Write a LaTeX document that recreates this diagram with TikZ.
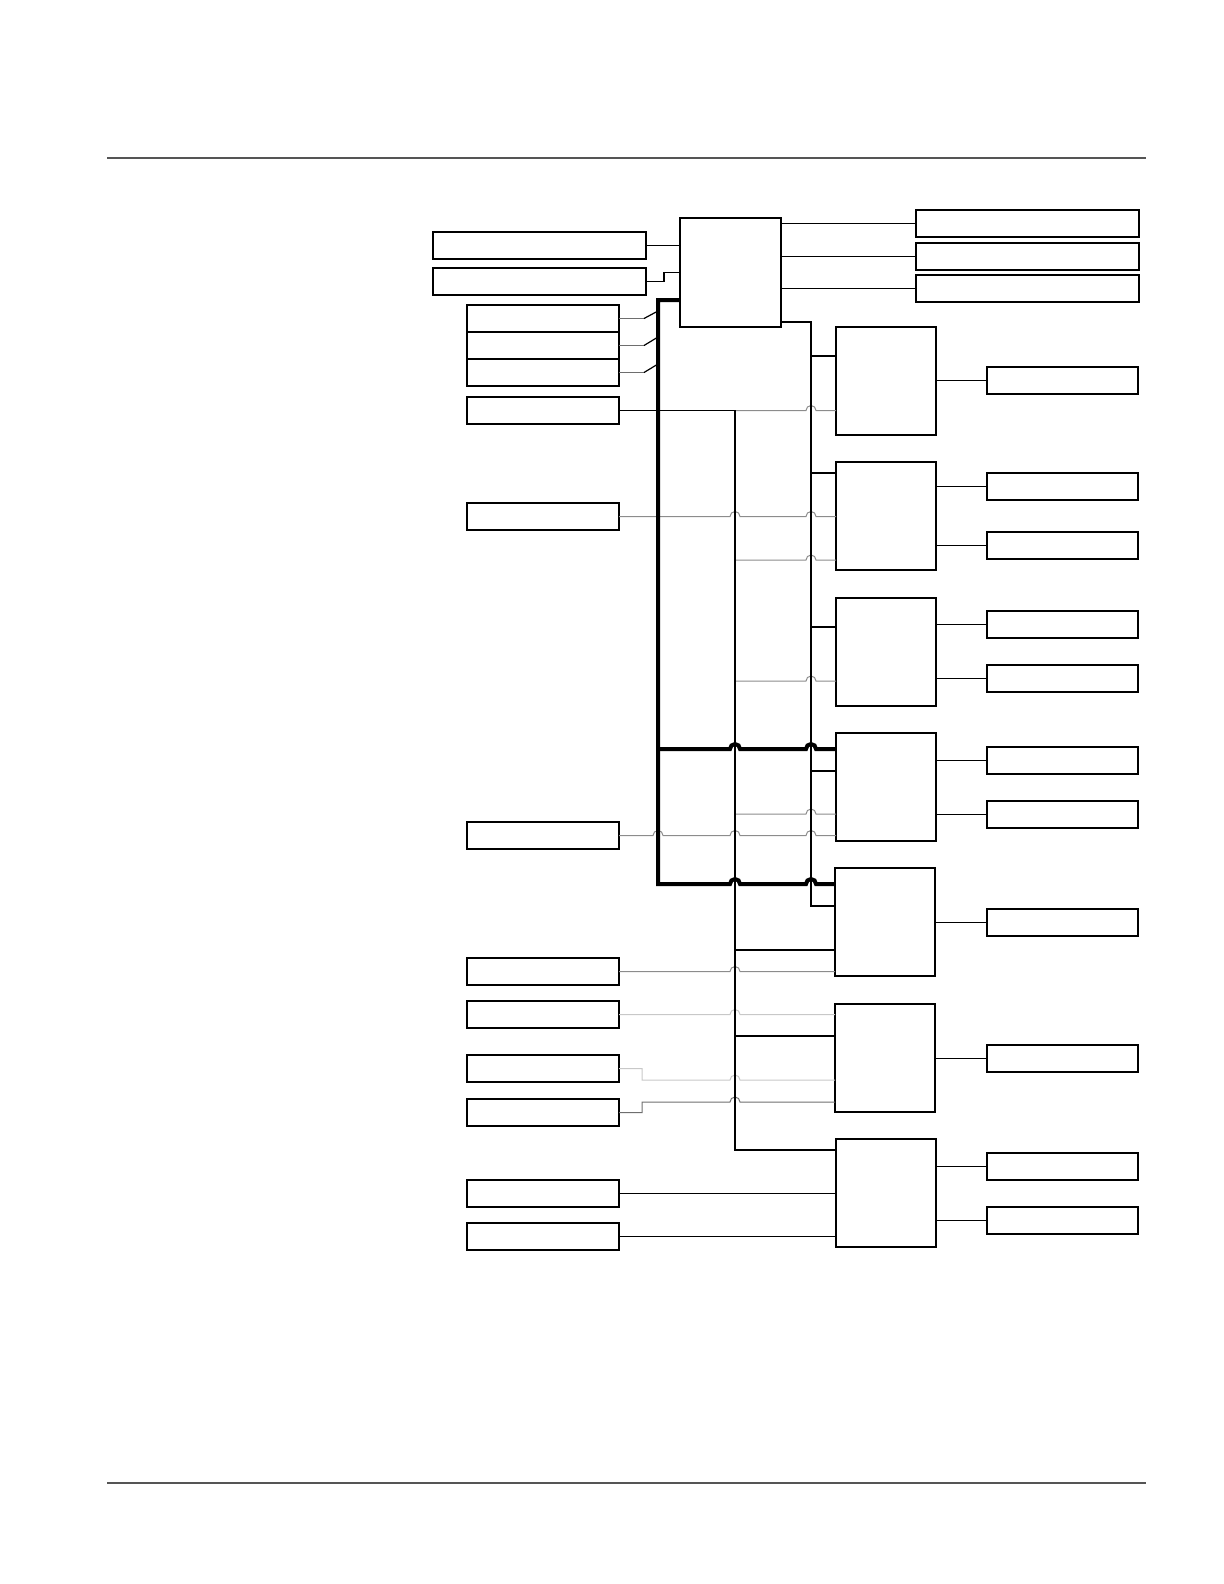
\documentclass[tikz,border=0pt]{standalone}
\usetikzlibrary{calc}

\definecolor{rulegray}{HTML}{555555}
\definecolor{midgray}{HTML}{8C8C8C}
\definecolor{darkgray}{HTML}{6E6E6E}
\definecolor{lightgray}{HTML}{C8C8C8}

\newcommand*{\hop}{arc[start angle=180,end angle=0,radius=2.5pt]}

\begin{document}
\begin{tikzpicture}
[
	box/.style={draw,line width=0.7pt,inner sep=0pt,outer sep=0pt,anchor=north west},
	abox/.style={box,minimum width=106.5pt,minimum height=13.5pt},
	lbox/.style={box,minimum width=76pt,minimum height=13.5pt},
	rbox/.style={box,minimum width=111.5pt,minimum height=13.5pt},
	cbox/.style={box,minimum width=50pt,minimum height=54pt},
	dbox/.style={box,minimum width=75.5pt,minimum height=13.5pt},
	wire/.style={line width=0.6pt},
	sig/.style={line width=0.5pt,midgray},
	bus/.style={line width=2pt},
	x=0.5pt, y=-0.5pt
]
	\useasboundingbox (0,0) rectangle (1224,1584);

	% page rules
	\draw[rulegray,line width=0.85pt] (107,158) -- (1146,158);
	\draw[rulegray,line width=0.85pt] (107,1483) -- (1146,1483);

	% main unit
	\node[box,minimum width=50.5pt,minimum height=54.5pt] (m) at (680,218) {};
	\node[abox] (a1) at (433,232) {};
	\node[abox] (a2) at (433,268) {};
	\node[rbox] (r1) at (916,210) {};
	\node[rbox] (r2) at (916,243) {};
	\node[rbox] (r3) at (916,275) {};

	% inputs
	\node[lbox] (b1) at (467,305) {};
	\node[lbox] (b2) at (467,332) {};
	\node[lbox] (b3) at (467,359) {};
	\node[lbox] (b4) at (467,397) {};
	\node[lbox] (b5) at (467,503) {};
	\node[lbox] (b6) at (467,822) {};
	\node[lbox] (b7) at (467,958) {};
	\node[lbox] (b8) at (467,1001) {};
	\node[lbox] (b9) at (467,1055) {};
	\node[lbox] (b10) at (467,1099) {};
	\node[lbox] (b11) at (467,1180) {};
	\node[lbox] (b12) at (467,1223) {};

	% modules
	\node[cbox] (c1) at (836,327) {};
	\node[cbox] (c2) at (836,462) {};
	\node[cbox] (c3) at (836,598) {};
	\node[cbox] (c4) at (836,733) {};
	\node[cbox] (c5) at (835,868) {};
	\node[cbox] (c6) at (835,1004) {};
	\node[cbox] (c7) at (836,1139) {};

	% outputs
	\node[dbox] (d1) at (987,367) {};
	\node[dbox] (d2) at (987,473) {};
	\node[dbox] (d3) at (987,532) {};
	\node[dbox] (d4) at (987,611) {};
	\node[dbox] (d5) at (987,665) {};
	\node[dbox] (d6) at (987,747) {};
	\node[dbox] (d7) at (987,801) {};
	\node[dbox] (d8) at (987,909) {};
	\node[dbox] (d9) at (987,1045) {};
	\node[dbox] (d10) at (987,1153) {};
	\node[dbox] (d11) at (987,1207) {};

	% crossing points and buses
	\coordinate (h0) at (653,0);
	\coordinate (h1) at (730,0);
	\coordinate (h2) at (806,0);
	\coordinate (tk) at (658,300);
	\coordinate (v1) at (735,410.5);
	\coordinate (v2) at (811,322);

	% grey signal lines
	\draw[sig] (v1) -- (h2 |- v1) \hop -- (c1.west |- v1);
	\draw[sig] (b5.east) -- (h1 |- b5.east) \hop -- (h2 |- b5.east) \hop -- (c2.west |- b5.east);
	\draw[sig] (v1 |- 0,560) -- (h2 |- 0,560) \hop -- (c2.west |- 0,560);
	\draw[sig] (v1 |- 0,681) -- (h2 |- 0,681) \hop -- (c3.west |- 0,681);
	\draw[sig] (v1 |- 0,814) -- (h2 |- 0,814) \hop -- (c4.west |- 0,814);
	\draw[sig] (b6.east) -- (h0 |- b6.east) \hop -- (h1 |- b6.east) \hop -- (h2 |- b6.east) \hop -- (c4.west |- b6.east);
	\draw[sig] (b7.east) -- (h1 |- b7.east) \hop -- (c5.west |- b7.east);
	\draw[sig,lightgray] (b8.east) -- (h1 |- b8.east) \hop -- (c6.west |- b8.east);
	\draw[sig,lightgray] (b9.east) -- ++(23,0) -- (642,1080) -- (h1 |- 0,1080) \hop -- (c6.west |- 0,1080);
	\draw[sig,darkgray] (b10.east) -- ++(23,0) -- (642,1102) -- (h1 |- 0,1102) \hop -- (c6.west |- 0,1102);
	\draw[sig,darkgray] (b1.east) -- ++(25,0);
	\draw[sig,darkgray] (b2.east) -- ++(25,0);
	\draw[sig,darkgray] (b3.east) -- ++(25,0);

	% black wiring
	\draw[wire] (a1.east) -- (m.west |- a1.east);
	\draw[wire] (a2.east) -- ++(18,0) |- (m.west);
	\foreach \r in {r1,r2,r3}
		\draw[wire] (\r.west -| m.east) -- (\r.west);
	\draw[wire] ($(b1.east)+(25,0)$) -- (tk |- 0,311);
	\draw[wire] ($(b2.east)+(25,0)$) -- (tk |- 0,337);
	\draw[wire] ($(b3.east)+(25,0)$) -- (tk |- 0,364);
	\draw[wire] (b4.east) -- (v1) |- (c7.west |- 0,1150);
	\draw[wire] (m.east |- v2) -- (v2) |- (c5.west |- 0,906);
	\draw[wire] (v2 |- 0,356) -- (c1.west |- 0,356);
	\draw[wire] (v2 |- 0,473) -- (c2.west |- 0,473);
	\draw[wire] (v2 |- 0,627) -- (c3.west |- 0,627);
	\draw[wire] (v2 |- 0,771) -- (c4.west |- 0,771);
	\draw[wire] (v1 |- 0,950) -- (c5.west |- 0,950);
	\draw[wire] (v1 |- 0,1036) -- (c6.west |- 0,1036);
	\draw[wire] (b11.east) -- (c7.west |- b11.east);
	\draw[wire] (b12.east) -- (c7.west |- b12.east);
	\foreach \c/\d in {c1/d1,c2/d2,c2/d3,c3/d4,c3/d5,c4/d6,c4/d7,c5/d8,c6/d9,c7/d10,c7/d11}
		\draw[wire] (\d.west -| \c.east) -- (\d.west);

	% thick supply
	\draw[bus] (m.west |- tk) -- (tk) -- (tk |- 0,884) -- (h1 |- 0,884) \hop -- (h2 |- 0,884) \hop -- (c5.west |- 0,884);
	\draw[bus] (tk |- 0,749) -- (h1 |- 0,749) \hop -- (h2 |- 0,749) \hop -- (c4.west |- 0,749);

\end{tikzpicture}
\end{document}
